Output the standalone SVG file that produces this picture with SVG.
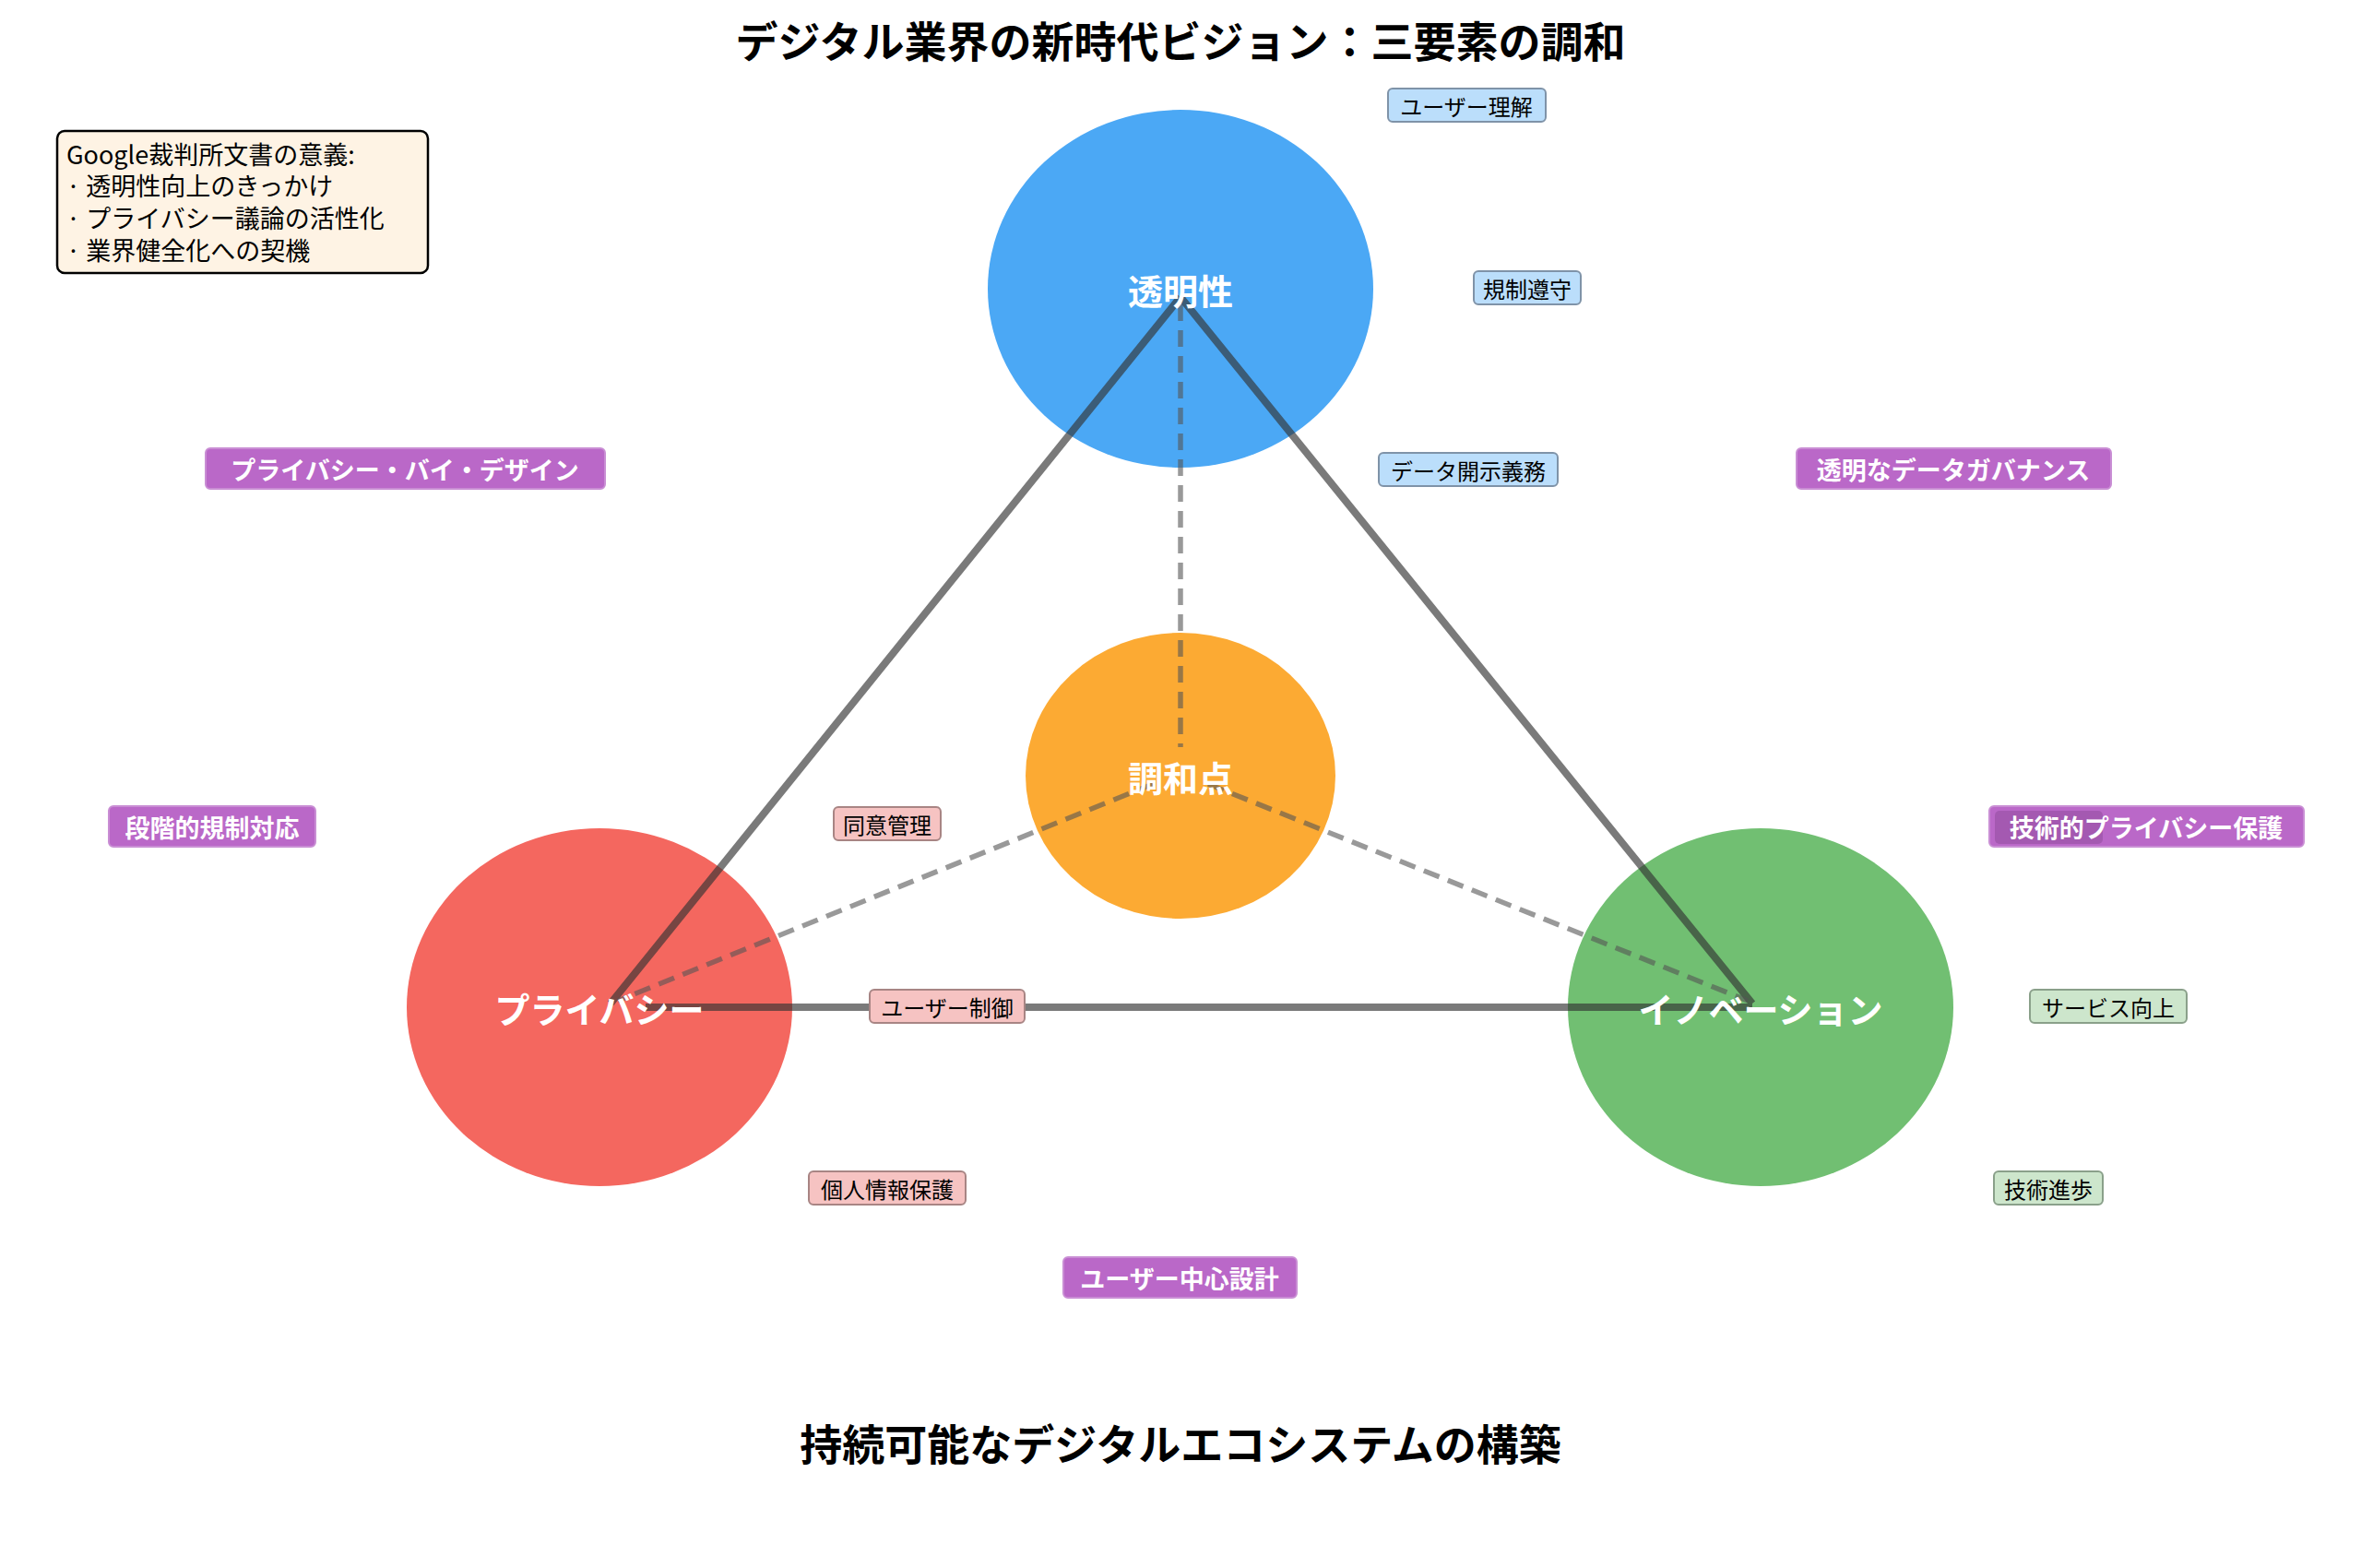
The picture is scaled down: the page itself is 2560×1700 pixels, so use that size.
<svg xmlns="http://www.w3.org/2000/svg" width="2560" height="1700" viewBox="0 0 2560 1700">
<style>
text{font-family:"Noto Sans CJK JP","Noto Sans",sans-serif;text-anchor:middle;dominant-baseline:central}
.title{font-size:46px;font-weight:bold;fill:#000}
.node{font-size:38px;font-weight:bold;fill:#fff}
.sm{font-size:24px;fill:#000}
.pl{font-size:27px;font-weight:bold;fill:#fff}
.solid{stroke:#333;stroke-opacity:0.65;stroke-width:8;fill:none}
.dash{stroke:#555;stroke-opacity:0.6;stroke-width:5.5;stroke-dasharray:18 10;fill:none}
.b{fill:#BBDEFB;stroke:#7f93a8;stroke-width:2}
.r{fill:#F6C3C2;stroke:#a88584;stroke-width:2}
.g{fill:#CDE6CC;stroke:#8aa08a;stroke-width:2}
.p{fill:#BA68C8;stroke:#c98ed4;stroke-width:2}
</style>
<rect width="2560" height="1700" fill="#fff"/>
<text class="title" x="1280" y="42">デジタル業界の新時代ビジョン：三要素の調和</text>
<g id="n-transparency"><ellipse cx="1280" cy="313" rx="209" ry="194" fill="#4BA8F5"/></g>
<g id="n-harmony"><ellipse cx="1280" cy="841" rx="168" ry="155" fill="#FCAA33"/></g>
<g id="n-privacy"><ellipse cx="650" cy="1092" rx="209" ry="194" fill="#F4675F"/></g>
<g id="n-innovation"><ellipse cx="1909" cy="1092" rx="209" ry="194" fill="#71BF72"/></g>
<g id="connectors">
<path class="solid" d="M1280 322 L662 1088 M1280 322 L1900 1088 M700 1092 L1900 1092"/>
<path class="dash" d="M1280 330 L1280 810 M1250 850 L670 1085 M1310 850 L1895 1085"/>
</g>
<g id="labels-main">
<text class="node" x="1280" y="313">透明性</text>
<text class="node" x="1280" y="841">調和点</text>
<text class="node" x="650" y="1092">プライバシー</text>
<text class="node" x="1909" y="1092">イノベーション</text>
</g>
<g id="l1"><rect class="b" x="1505" y="96" width="171" height="36" rx="5"/><text class="sm" x="1590" y="114">ユーザー理解</text></g>
<g id="l2"><rect class="b" x="1598" y="294" width="116" height="36" rx="5"/><text class="sm" x="1656" y="312">規制遵守</text></g>
<g id="l3"><rect class="b" x="1495" y="491" width="194" height="36" rx="5"/><text class="sm" x="1592" y="509">データ開示義務</text></g>
<g id="l4"><rect class="r" x="904" y="875" width="116" height="36" rx="5"/><text class="sm" x="962" y="893">同意管理</text></g>
<g id="l5"><rect class="r" x="943" y="1073" width="168" height="36" rx="5"/><text class="sm" x="1027" y="1091">ユーザー制御</text></g>
<g id="l6"><rect class="r" x="877" y="1270" width="170" height="36" rx="5"/><text class="sm" x="962" y="1288">個人情報保護</text></g>
<g id="l7"><rect class="g" x="2201" y="1073" width="170" height="36" rx="5"/><text class="sm" x="2286" y="1091">サービス向上</text></g>
<g id="l8"><rect class="g" x="2162" y="1270" width="118" height="36" rx="5"/><text class="sm" x="2221" y="1288">技術進歩</text></g>
<g id="p1"><rect class="p" x="223" y="486" width="433" height="44" rx="5"/><text class="pl" x="439" y="508">プライバシー・バイ・デザイン</text></g>
<g id="p2"><rect class="p" x="1948" y="486" width="341" height="44" rx="5"/><text class="pl" x="2118" y="508">透明なデータガバナンス</text></g>
<g id="p3"><rect class="p" x="118" y="874" width="224" height="44" rx="5"/><text class="pl" x="230" y="896">段階的規制対応</text></g>
<g id="p4"><rect class="p" x="2157" y="874" width="341" height="44" rx="5"/><rect x="2163" y="879" width="117" height="36" rx="5" fill="#7a3f86" fill-opacity="0.35"/><text class="pl" x="2327" y="896">技術的プライバシー保護</text></g>
<g id="p5"><rect class="p" x="1153" y="1363" width="253" height="44" rx="5"/><text class="pl" x="1279" y="1385">ユーザー中心設計</text></g>
<g id="info">
<rect x="62" y="142" width="402" height="154" rx="8" fill="#FEF3E4" stroke="#000" stroke-width="2.5"/>
<g style="font-size:27px">
<text x="72" y="166" style="text-anchor:start">Google裁判所文書の意義:</text>
<text x="72" y="200" style="text-anchor:start">· 透明性向上のきっかけ</text>
<text x="72" y="235" style="text-anchor:start">· プライバシー議論の活性化</text>
<text x="72" y="270" style="text-anchor:start">· 業界健全化への契機</text>
</g>
</g>
<text class="title" x="1280" y="1563">持続可能なデジタルエコシステムの構築</text>
</svg>
